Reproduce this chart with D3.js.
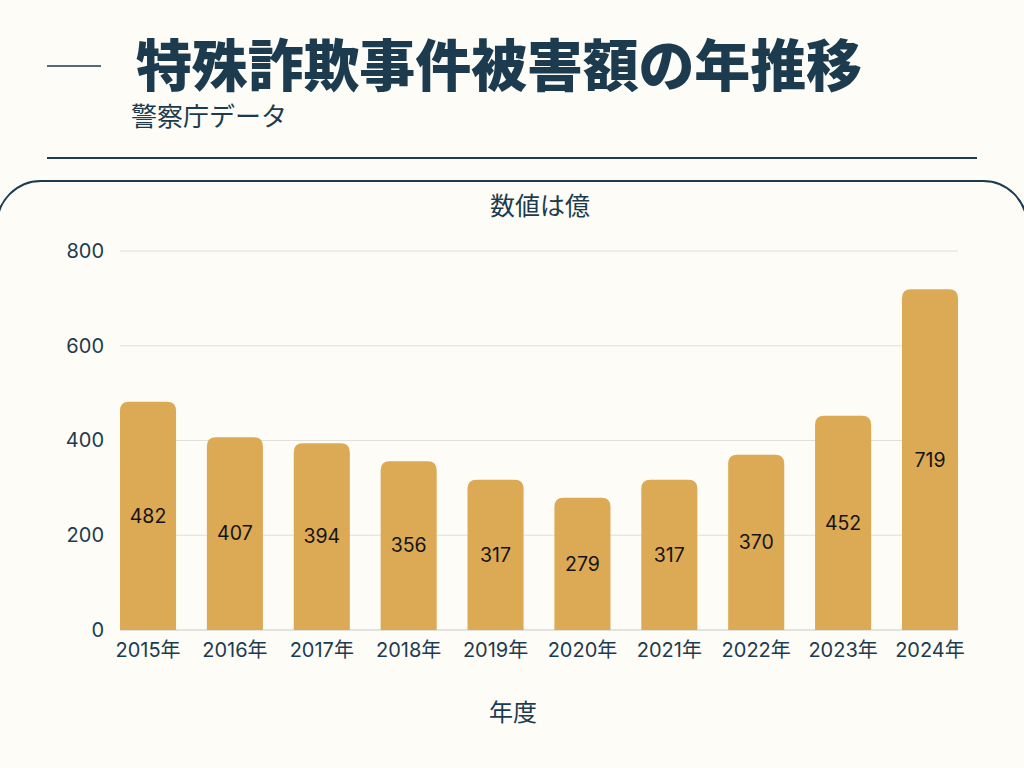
<!DOCTYPE html>
<html>
<head>
<meta charset="utf-8">
<script src="https://cdn.jsdelivr.net/npm/d3@7"></script>
<style>
  body { margin: 0; background: #fdfcf6; }
  svg { display: block; }
</style>
</head>
<body>
<div id="chart"></div>
<script>
// data
var years = ["2015年", "2016年", "2017年", "2018年", "2019年", "2020年", "2021年", "2022年", "2023年", "2024年"];
var damage = [482, 407, 394, 356, 317, 279, 317, 370, 452, 719];
var yTicks = [0, 200, 400, 600, 800];

var W = 1024, H = 768;
var dark = "#1d3b4f";
var cjk = "'Noto Sans CJK JP', 'Noto Sans', sans-serif";
var num = "Inter, 'Noto Sans CJK JP', sans-serif";

var svg = d3.select("#chart").append("svg")
    .attr("width", W)
    .attr("height", H);

svg.append("rect")
    .attr("width", W).attr("height", H)
    .attr("fill", "#fdfcf6");

// header
svg.append("line")
    .attr("x1", 47).attr("x2", 101)
    .attr("y1", 66).attr("y2", 66)
    .attr("stroke", dark).attr("stroke-width", 1.5);

svg.append("text")
    .attr("x", 136).attr("y", 86)
    .attr("font-family", cjk)
    .attr("font-weight", 900)
    .attr("font-size", 56)
    .attr("textLength", 726)
    .attr("fill", dark)
    .text("特殊詐欺事件被害額の年推移");

svg.append("text")
    .attr("x", 131).attr("y", 126)
    .attr("font-family", cjk)
    .attr("font-size", 26)
    .attr("fill", dark)
    .text("警察庁データ");

svg.append("line")
    .attr("x1", 47).attr("x2", 977)
    .attr("y1", 158).attr("y2", 158)
    .attr("stroke", dark).attr("stroke-width", 2);

// panel
svg.append("rect")
    .attr("x", -3).attr("y", 181)
    .attr("width", W + 6).attr("height", 700)
    .attr("rx", 44).attr("ry", 44)
    .attr("fill", "none")
    .attr("stroke", dark).attr("stroke-width", 2);

// scales
var x = d3.scaleBand()
    .domain(years)
    .range([120, 958])
    .paddingInner(0.355)
    .paddingOuter(0);

var y = d3.scaleLinear()
    .domain([0, 800])
    .range([630, 251]);

// grid
svg.append("g")
    .selectAll("line")
    .data(yTicks)
    .enter().append("line")
      .attr("x1", 120).attr("x2", 958)
      .attr("y1", function(d) { return y(d); })
      .attr("y2", function(d) { return y(d); })
      .attr("stroke", function(d) { return d === 0 ? "#c9c9c6" : "#e0dfda"; })
      .attr("stroke-width", 1);

// y axis labels
var yAxis = svg.append("g")
    .attr("transform", "translate(120,0)")
    .call(d3.axisLeft(y).tickValues(yTicks).tickSize(0).tickPadding(16));
yAxis.select(".domain").remove();
yAxis.selectAll("text")
    .attr("font-family", num)
    .attr("font-size", 20)
    .attr("fill", dark);

// x axis labels
var xAxis = svg.append("g")
    .attr("transform", "translate(0,630)")
    .call(d3.axisBottom(x).tickSize(0).tickPadding(13));
xAxis.select(".domain").remove();
xAxis.selectAll("text")
    .attr("font-family", num)
    .attr("font-size", 20)
    .attr("fill", dark);

// bars with rounded tops
var r = 9;
function barPath(d, i) {
  var x0 = x(years[i]), w = x.bandwidth();
  var top = y(d), bot = y(0);
  return "M" + x0 + "," + bot +
         "V" + (top + r) +
         "Q" + x0 + "," + top + " " + (x0 + r) + "," + top +
         "H" + (x0 + w - r) +
         "Q" + (x0 + w) + "," + top + " " + (x0 + w) + "," + (top + r) +
         "V" + bot + "Z";
}

svg.append("g")
    .selectAll("path")
    .data(damage)
    .enter().append("path")
      .attr("d", barPath)
      .attr("fill", "#dca955");

svg.append("g")
    .selectAll("text")
    .data(damage)
    .enter().append("text")
      .attr("x", function(d, i) { return x(years[i]) + x.bandwidth() / 2; })
      .attr("y", function(d) { return (y(d) + y(0)) / 2; })
      .attr("dy", "0.35em")
      .attr("text-anchor", "middle")
      .attr("font-family", num)
      .attr("font-size", 19.5)
      .attr("fill", "#141414")
      .text(function(d) { return d; });

// unit and axis titles
svg.append("text")
    .attr("x", 540).attr("y", 215)
    .attr("text-anchor", "middle")
    .attr("font-family", cjk)
    .attr("font-size", 25)
    .attr("fill", dark)
    .text("数値は億");

svg.append("text")
    .attr("x", 513).attr("y", 721)
    .attr("text-anchor", "middle")
    .attr("font-family", cjk)
    .attr("font-size", 24)
    .attr("fill", dark)
    .text("年度");
</script>
</body>
</html>
